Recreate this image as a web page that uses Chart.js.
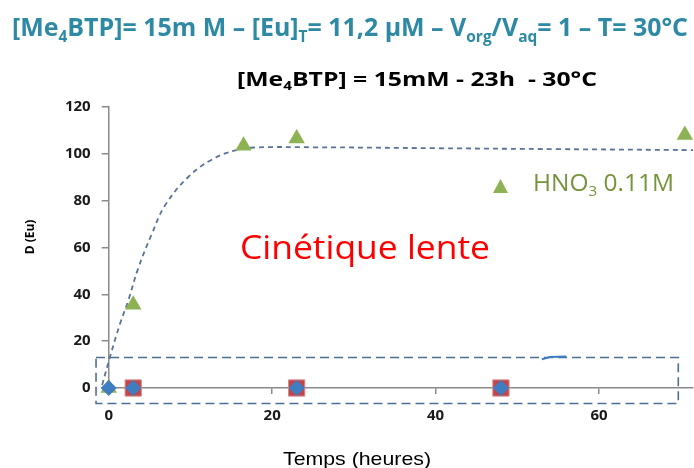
<!DOCTYPE html>
<html>
<head>
<meta charset="utf-8">
<script src="https://cdn.jsdelivr.net/npm/chart.js@4/dist/chart.umd.min.js"></script>
<style>
  body { margin: 0; background: #fff; }
  canvas { display: block; }
</style>
</head>
<body>
<canvas id="kinChart" width="694" height="468"></canvas>
<script>
// hours
const hnoTimes = [0, 3, 16.5, 23, 70.5];
const hnoD = [0, 35.5, 103.5, 106.5, 108];
const squareTimes = [3, 23, 48];
const squareD = [0, 0, 0];
const diamondTimes = [0, 3, 23, 48];
const diamondD = [0, 0, 0, 0];
// dashed trend curve
const trendTimes = [-0.8, 0.16, 1.4, 2.4, 3.6, 5.3, 6.9, 9.7, 12.6, 15.5, 17.9, 25, 40, 55, 71.5];
const trendD = [1.3, 13.3, 27.6, 37.4, 51, 66, 78, 90, 97.5, 101.5, 102.7, 102.8, 102.4, 102, 101.6];
// little stray stroke near the box top
const strayTimes = [53, 54, 56];
const strayD = [12.3, 13.2, 13.4];
// dashed frame around the zero points
const boxTimes = [-1.55, 69.7, 69.7, -1.55, -1.55];
const boxD = [13, 13, -6.6, -6.6, 13];
const xTickLabels = [0, 20, 40, 60];
const yTickLabels = [0, 20, 40, 60, 80, 100, 120];

const pts = (xs, ys) => xs.map((x, i) => ({x: x, y: ys[i]}));

// draw text runs (with subscripts) squeezed/stretched to a given width
function drawRuns(ctx, runs, x, base, width, size, weight, family, color) {
  ctx.save();
  let total = 0;
  runs.forEach(r => {
    const s = r.sub ? size * 0.62 : size;
    ctx.font = weight + ' ' + s + 'px ' + family;
    r.w = ctx.measureText(r.t).width;
    total += r.w;
  });
  ctx.translate(x, base);
  ctx.scale(width / total, 1);
  ctx.fillStyle = color;
  ctx.textBaseline = 'alphabetic';
  ctx.textAlign = 'left';
  let cx = 0;
  runs.forEach(r => {
    const s = r.sub ? size * 0.62 : size;
    ctx.font = weight + ' ' + s + 'px ' + family;
    ctx.fillText(r.t, cx, r.sub ? size * 0.22 : 0);
    cx += r.w;
  });
  ctx.restore();
}

const textPlugin = {
  id: 'texts',
  afterDraw(chart) {
    const ctx = chart.ctx;
    drawRuns(ctx, [
      {t: '[Me'}, {t: '4', sub: true}, {t: 'BTP]= 15m M \u2013 [Eu]'}, {t: 'T', sub: true},
      {t: '= 11,2 \u00b5M \u2013 V'}, {t: 'org', sub: true}, {t: '/V'}, {t: 'aq', sub: true},
      {t: '= 1 \u2013 T= 30\u00b0C'}
    ], 12, 36, 676, 25, 'bold', '"Open Sans"', '#2E8AA4');
    drawRuns(ctx, [
      {t: '[Me'}, {t: '4', sub: true}, {t: 'BTP] = 15mM - 23h  - 30\u00b0C'}
    ], 237, 86, 360, 20, 'bold', '"Open Sans"', '#000000');
    drawRuns(ctx, [{t: 'Cin\u00e9tique lente'}], 240, 259, 250, 32, 'normal', '"Open Sans"', '#FF0000');
    drawRuns(ctx, [{t: 'HNO'}, {t: '3', sub: true}, {t: ' 0.11M'}], 533, 191, 141, 23, 'normal', '"Open Sans"', '#77933C');
    drawRuns(ctx, [{t: 'Temps (heures)'}], 283, 465, 148, 19, 'normal', '"Liberation Sans"', '#000000');

    // legend marker
    ctx.save();
    ctx.fillStyle = '#8DB254';
    ctx.beginPath();
    ctx.moveTo(500.5, 179);
    ctx.lineTo(508, 193);
    ctx.lineTo(493, 193);
    ctx.closePath();
    ctx.fill();
    // y axis title
    ctx.translate(31, 237);
    ctx.rotate(-Math.PI / 2);
    ctx.font = 'bold 12px "Open Sans"';
    ctx.fillStyle = '#000';
    ctx.textAlign = 'center';
    ctx.textBaseline = 'middle';
    ctx.fillText('D (Eu)', 0, 0);
    ctx.restore();
  }
};

const axisColor = '#8A8A8A';
const tickFont = {family: '"Open Sans"', size: 15, weight: 'bold'};

new Chart(document.getElementById('kinChart'), {
  type: 'scatter',
  data: {
    datasets: [
      {
        label: 'diamonds',
        data: pts(diamondTimes, diamondD),
        pointStyle: 'rectRot',
        pointRadius: 8,
        backgroundColor: '#3F7DC1',
        borderColor: '#3F7DC1',
        borderWidth: 0,
        clip: false
      },
      {
        label: 'squares',
        data: pts(squareTimes, squareD),
        pointStyle: 'rect',
        pointRadius: 11.5,
        backgroundColor: '#C0464B',
        borderColor: '#D88A8D',
        borderWidth: 1,
        clip: false
      },
      {
        label: 'HNO3 0.11M',
        data: pts(hnoTimes, hnoD),
        pointStyle: 'triangle',
        pointRadius: 9.5,
        backgroundColor: '#8DB254',
        borderColor: '#8DB254',
        borderWidth: 0,
        clip: false
      },
      {
        label: 'stray',
        type: 'line',
        data: pts(strayTimes, strayD),
        borderColor: '#3F7DC1',
        borderWidth: 2,
        pointRadius: 0,
        tension: 0,
        clip: false
      },
      {
        label: 'trend',
        type: 'line',
        data: pts(trendTimes, trendD),
        borderColor: '#5A7396',
        borderWidth: 1.8,
        borderDash: [5, 4],
        pointRadius: 0,
        tension: 0.4,
        clip: false
      },
      {
        label: 'box',
        type: 'line',
        data: pts(boxTimes, boxD),
        borderColor: '#4E6F95',
        borderWidth: 1.6,
        borderDash: [9, 5],
        pointRadius: 0,
        tension: 0,
        clip: false
      }
    ]
  },
  options: {
    responsive: false,
    animation: false,
    layout: {autoPadding: false, padding: {top: 107, right: 1, left: 0, bottom: 0}},
    plugins: {legend: {display: false}, tooltip: {enabled: false}},
    scales: {
      x: {
        type: 'linear',
        min: 0,
        max: 71.5,
        afterFit(s) { s.height = 80; },
        afterBuildTicks(s) { s.ticks = xTickLabels.map(v => ({value: v})); },
        ticks: {font: tickFont, color: '#1A1A1A', padding: 13, maxRotation: 0},
        grid: {drawOnChartArea: false, tickLength: 6, color: axisColor, lineWidth: 1.5},
        border: {color: axisColor, width: 1.5}
      },
      y: {
        min: 0,
        max: 120,
        afterFit(s) { s.width = 108.7; },
        afterBuildTicks(s) { s.ticks = yTickLabels.map(v => ({value: v})); },
        ticks: {font: tickFont, color: '#1A1A1A', padding: 11},
        grid: {drawOnChartArea: false, tickLength: 7, color: axisColor, lineWidth: 1.5},
        border: {color: axisColor, width: 1.5}
      }
    }
  },
  plugins: [textPlugin]
});
</script>
</body>
</html>
